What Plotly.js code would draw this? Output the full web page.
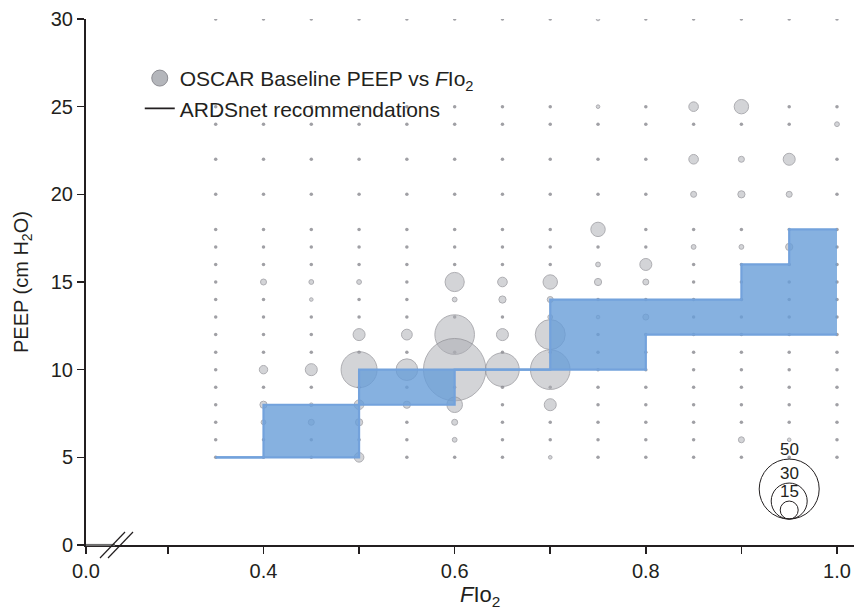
<!DOCTYPE html>
<html>
<head>
<meta charset="utf-8">
<script src="https://cdn.plot.ly/plotly-3.0.1.min.js"></script>
<style>html,body{margin:0;padding:0;background:#fff;}#chart{width:854px;height:613px;}</style>
</head>
<body>
<div id="chart"></div>
<script>
// ---- data ----
// grid of possible FIo2 / PEEP settings (background dots)
var gridFio2 = [0.35, 0.40, 0.45, 0.50, 0.55, 0.60, 0.65, 0.70, 0.75, 0.80, 0.85, 0.90, 0.95, 1.00];
var gridPeep = [5, 6, 7, 8, 9, 10, 11, 12, 13, 14, 15, 16, 17, 18, 20, 22, 24, 25, 30];

// OSCAR baseline observations (bubble = number of patients)
var oscarFio2 = [0.40, 0.45, 0.50, 0.45, 0.50, 0.55, 0.40, 0.45, 0.50, 0.55, 0.40, 0.45, 0.50, 0.55, 0.40, 0.45, 0.50, 0.50,
                 0.60, 0.60, 0.60, 0.60, 0.60, 0.60, 0.60, 0.65, 0.65, 0.65, 0.65, 0.70, 0.70, 0.70, 0.70, 0.70, 0.70, 0.70,
                 0.75, 0.75, 0.75, 0.75, 0.75, 0.75, 0.80, 0.80, 0.80, 0.85, 0.85, 0.85, 0.85, 0.90, 0.90, 0.90, 0.90, 0.90,
                 0.95, 0.95, 0.95, 0.95, 1.00];
var oscarPeep = [15, 15, 15, 14, 12, 12, 10, 10, 10, 10, 8, 8, 8, 8, 7, 7, 7, 5,
                 15, 14, 12, 10, 8, 7, 6, 15, 14, 12, 10, 15, 14, 13, 12, 10, 8, 5,
                 18, 16, 15, 13, 25, 30, 16, 15, 13, 25, 22, 20, 17, 25, 22, 20, 17, 6,
                 22, 20, 17, 6, 24];
var oscarCount = [5, 4, 4, 3, 10, 9, 7, 10, 30, 18, 6, 3, 8, 6, 4, 5, 6, 8,
                  16, 4, 33, 52, 13, 5, 4, 8, 6, 10, 28, 12, 5, 4, 25, 33, 10, 3,
                  12, 4, 6, 3, 3, 3, 10, 5, 5, 8, 8, 5, 4, 12, 5, 6, 4, 5,
                  10, 5, 6, 3, 4];

// ARDSnet recommended PEEP range (lower / upper) by FIo2
var ardsFio2  = [0.35, 0.40, 0.50, 0.60, 0.70, 0.80, 0.90, 0.95, 1.00];
var ardsLower = [5, 5, 8, 10, 10, 12, 12, 12, 12];
var ardsUpper = [5, 8, 10, 10, 14, 14, 16, 18, 18];

// bubble size key
var keyCounts = [50, 30, 15];
var keyLabels = ['50', '30', '15'];

// axis ticks
var xTickVals = [0.2143, 0.3, 0.4, 0.5, 0.6, 0.7, 0.8, 0.9, 1.0];
var xTickText = ['0.0', ' ', '0.4', ' ', '0.6', ' ', '0.8', ' ', '1.0'];
var yTickVals = [0, 5, 10, 15, 20, 25, 30];

// ---- build ----
var PX_PER_COUNT = 1.2;   // bubble diameter (px) per patient
var FONT = 'Liberation Sans, Arial, Helvetica, sans-serif';
var INK = '#231f20';

var occupied = {};
oscarFio2.forEach(function (x, i) { occupied[x.toFixed(2) + '_' + oscarPeep[i]] = true; });
var gx = [], gy = [];
gridFio2.forEach(function (x) {
  gridPeep.forEach(function (y) {
    if (!occupied[x.toFixed(2) + '_' + y]) { gx.push(x); gy.push(y); }
  });
});

var traces = [
  {
    type: 'scatter', mode: 'markers', x: gx, y: gy, showlegend: false, hoverinfo: 'skip',
    marker: {size: 3.5, color: 'rgb(160,160,165)', line: {width: 0}}
  },
  {
    type: 'scatter', mode: 'markers', x: oscarFio2, y: oscarPeep, showlegend: false,
    marker: {
      size: oscarCount, sizemode: 'diameter', sizeref: 1 / PX_PER_COUNT,
      color: 'rgba(172,174,180,0.75)', line: {color: 'rgb(140,140,146)', width: 1}
    }
  },
  {
    type: 'scatter', mode: 'lines', x: ardsFio2, y: ardsLower, showlegend: false,
    line: {shape: 'hv', color: 'rgb(115,162,220)', width: 2.2}
  },
  {
    type: 'scatter', mode: 'lines', x: ardsFio2, y: ardsUpper, showlegend: false,
    fill: 'tonexty', fillcolor: 'rgba(104,158,216,0.8)',
    line: {shape: 'hv', color: 'rgb(115,162,220)', width: 2.2}
  },
  {
    type: 'scatter', mode: 'markers', x: [null], y: [null], legendgroup: 'a',
    name: 'OSCAR Baseline PEEP vs <i>F</i>Io<sub>2</sub>',
    marker: {size: 20, color: 'rgba(172,174,180,0.9)', line: {color: 'rgb(140,140,146)', width: 1}}
  },
  {
    type: 'scatter', mode: 'lines', x: [null], y: [null], legendgroup: 'b',
    name: 'ARDSnet recommendations', line: {color: INK, width: 1.6}
  }
];

var KEY_X = 0.95, KEY_Y = 1.48;
var shapes = [], annotations = [];
keyCounts.forEach(function (c, i) {
  var d = c * PX_PER_COUNT;
  shapes.push({
    type: 'circle', xref: 'x', yref: 'y', xsizemode: 'pixel', ysizemode: 'pixel',
    xanchor: KEY_X, yanchor: KEY_Y, x0: -d / 2, x1: d / 2, y0: 0, y1: d,
    line: {color: INK, width: 1}, fillcolor: 'rgba(0,0,0,0)', layer: 'above'
  });
  annotations.push({
    xref: 'x', yref: 'y', x: KEY_X, y: KEY_Y, yshift: d - 2, yanchor: 'bottom', showarrow: false,
    text: keyLabels[i], font: {family: FONT, size: 17, color: INK}
  });
});

// axis break marks
shapes.push({type: 'line', xref: 'paper', yref: 'paper', xsizemode: 'pixel', ysizemode: 'pixel',
  xanchor: 0, yanchor: 0, x0: 0, x1: 29, y0: 0, y1: 0, line: {color: 'rgb(110,110,110)', width: 2.2}, layer: 'above'});
shapes.push({type: 'line', xref: 'paper', yref: 'paper', xsizemode: 'pixel', ysizemode: 'pixel',
  xanchor: 0, yanchor: 0, x0: 14, x1: 39, y0: -13, y1: 13, line: {color: INK, width: 1.2}, layer: 'above'});
shapes.push({type: 'line', xref: 'paper', yref: 'paper', xsizemode: 'pixel', ysizemode: 'pixel',
  xanchor: 0, yanchor: 0, x0: 22, x1: 47, y0: -13, y1: 13, line: {color: INK, width: 1.2}, layer: 'above'});

annotations.push({
  xref: 'paper', yref: 'paper', x: 0.513, y: -0.097, xanchor: 'center', yanchor: 'middle', showarrow: false,
  text: '<i>F</i>Io<sub>2</sub>', font: {family: FONT, size: 22, color: INK}
});
annotations.push({
  xref: 'paper', yref: 'paper', x: -0.0833, y: 0.5, xanchor: 'center', yanchor: 'middle', showarrow: false,
  textangle: -90, text: 'PEEP (cm H<sub>2</sub>O)', font: {family: FONT, size: 20, color: INK}
});

var layout = {
  width: 854, height: 613,
  margin: {l: 86, r: 0, t: 19, b: 68, pad: 0},
  paper_bgcolor: '#fff', plot_bgcolor: '#fff',
  font: {family: FONT, color: INK, size: 20},
  showlegend: true,
  legend: {
    x: 0.07, y: 0.926, xanchor: 'left', yanchor: 'top', traceorder: 'normal',
    bgcolor: 'rgba(0,0,0,0)', borderwidth: 0, tracegroupgap: 0,
    font: {family: FONT, size: 21, color: INK}
  },
  xaxis: {
    range: [0.2143, 1.0178], tickmode: 'array', tickvals: xTickVals, ticktext: xTickText,
    ticks: 'outside', ticklen: 7, tickwidth: 1.6, tickcolor: INK,
    showline: true, linecolor: INK, linewidth: 2, showgrid: false, zeroline: false,
    tickfont: {family: FONT, size: 20, color: INK}, fixedrange: true
  },
  yaxis: {
    range: [0, 30], tickmode: 'array', tickvals: yTickVals,
    ticks: 'outside', ticklen: 7, tickwidth: 1.6, tickcolor: INK,
    showline: true, linecolor: INK, linewidth: 2, showgrid: false, zeroline: false,
    tickfont: {family: FONT, size: 20, color: INK}, fixedrange: true
  },
  shapes: shapes,
  annotations: annotations
};

Plotly.newPlot('chart', traces, layout, {displayModeBar: false, staticPlot: true});
</script>
</body>
</html>
